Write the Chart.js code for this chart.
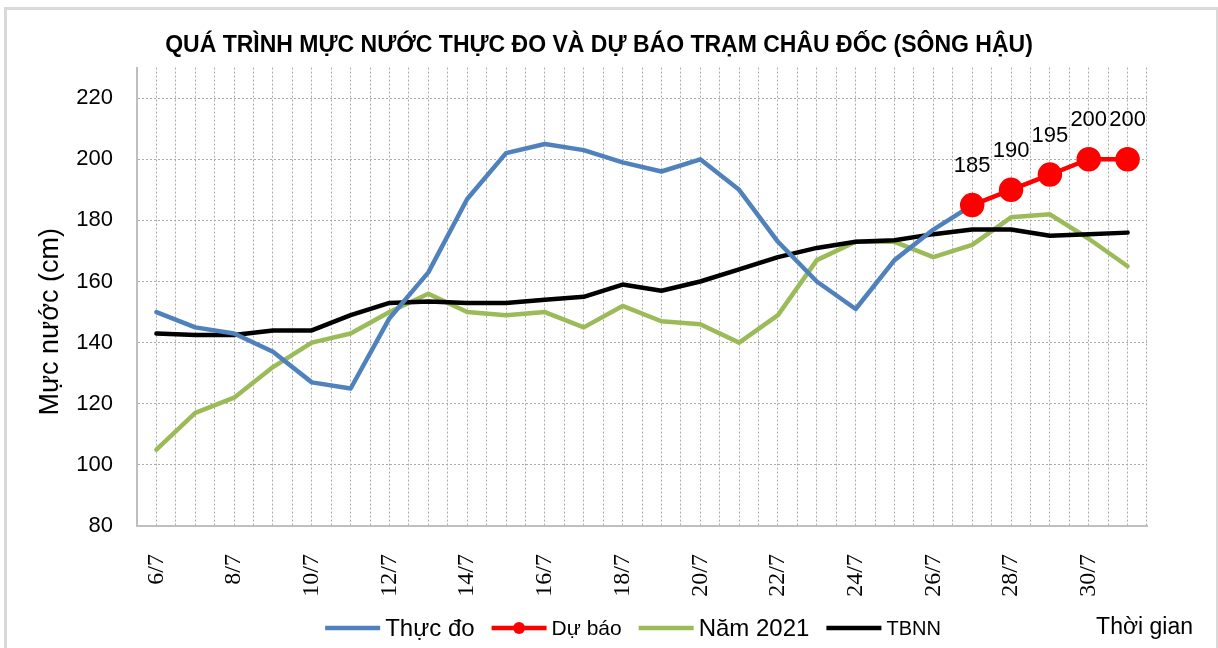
<!DOCTYPE html>
<html>
<head>
<meta charset="utf-8">
<script src="https://cdn.jsdelivr.net/npm/chart.js@4.4.1/dist/chart.umd.min.js"></script>
<style>
  body { margin: 0; background: #fff; }
  #frame { position: absolute; left: 4px; top: 7px; width: 1209px; height: 700px; border: 3px solid #d9d9d9; }
  #chart { position: absolute; left: 0; top: 0; }
</style>
</head>
<body>
<div id="frame"></div>
<canvas id="chart" width="1218" height="648"></canvas>
<script>
var days = ['6/7','7/7','8/7','9/7','10/7','11/7','12/7','13/7','14/7','15/7','16/7','17/7','18/7',
            '19/7','20/7','21/7','22/7','23/7','24/7','25/7','26/7','27/7','28/7','29/7','30/7','31/7'];

var thucDo = [150,145,143,137,127,125,148,163,187,202,205,203,199,196,200,190,173,160,151,167,177,185,
              null,null,null,null];
var duBao = [null,null,null,null,null,null,null,null,null,null,null,null,null,null,null,null,null,null,null,null,null,
             185,190,195,200,200];
var nam2021 = [105,117,122,132,140,143,150,156,150,149,150,145,152,147,146,140,149,167,173,173,168,172,181,182,174,165];
var tbnn = [143,142.5,142.5,144,144,149,153,153.5,153,153,154,155,159,157,160,164,168,171,173,173.5,175.5,177,177,175,175.5,176];

var yTicks = [80,100,120,140,160,180,200,220];

var gridColor = '#ababab';
var axisColor = '#bfbfbf';

// text that Chart.js has no slot for: labels on forecast points, legend row, axis titles
var extraText = {
  id: 'extraText',
  afterDatasetsDraw: function(chart){
    var ctx = chart.ctx;
    ctx.save();
    ctx.fillStyle = '#000';
    ctx.font = '22px "Liberation Sans"';
    ctx.textAlign = 'center';
    ctx.textBaseline = 'bottom';
    var meta = chart.getDatasetMeta(1);
    meta.data.forEach(function(pt, i){
      if (duBao[i] == null) return;
      ctx.fillText(String(duBao[i]), pt.x, pt.y - 28);
    });
    ctx.restore();
  },
  afterDraw: function(chart){
    var ctx = chart.ctx;
    var area = chart.chartArea;
    ctx.save();
    ctx.fillStyle = '#000';
    ctx.textBaseline = 'middle';

    // y title
    ctx.save();
    ctx.translate(area.left - 86, (area.top + area.bottom) / 2 + 25);
    ctx.rotate(-Math.PI / 2);
    ctx.textAlign = 'center';
    ctx.font = '27px "Liberation Sans"';
    ctx.fillText('Mực nước (cm)', 0, 0);
    ctx.restore();

    // x title
    ctx.textAlign = 'right';
    ctx.font = '23px "Liberation Sans"';
    ctx.fillText('Thời gian', area.right + 46, 628);

    // legend
    var sizes = [24, 21, 24, 20];
    var lineLen = 55, gapText = 5, gapItem = 17;
    var items = chart.data.datasets.map(function(ds, i){
      ctx.font = sizes[i] + 'px "Liberation Sans"';
      return {ds: ds, font: ctx.font, w: ctx.measureText(ds.label).width};
    });
    var total = 0;
    items.forEach(function(it, i){
      total += lineLen + gapText + it.w + (i < items.length - 1 ? gapItem : 0);
    });
    var x = 633 - total / 2;
    var y = 628;
    ctx.textAlign = 'left';
    items.forEach(function(it){
      ctx.strokeStyle = it.ds.borderColor;
      ctx.lineWidth = 4.5;
      ctx.beginPath();
      ctx.moveTo(x, y);
      ctx.lineTo(x + lineLen, y);
      ctx.stroke();
      if (it.ds.pointRadius > 0) {
        ctx.fillStyle = it.ds.pointBackgroundColor;
        ctx.beginPath();
        ctx.arc(x + lineLen / 2, y, 6, 0, Math.PI * 2);
        ctx.fill();
      }
      ctx.fillStyle = '#000';
      ctx.font = it.font;
      ctx.fillText(it.ds.label, x + lineLen + gapText, y + 1);
      x += lineLen + gapText + it.w + gapItem;
    });
    ctx.restore();
  }
};

var ctx = document.getElementById('chart').getContext('2d');
var myChart = new Chart(ctx, {
  type: 'line',
  plugins: [extraText],
  data: {
    labels: days,
    datasets: [{
      label: 'Thực đo',
      data: thucDo,
      borderColor: '#4f81bd',
      backgroundColor: '#4f81bd',
      borderWidth: 4.5,
      pointRadius: 0,
      order: 1
    },
    {
      label: 'Dự báo',
      data: duBao,
      borderColor: '#ff0000',
      backgroundColor: '#ff0000',
      pointBackgroundColor: '#ff0000',
      pointBorderColor: '#ff0000',
      borderWidth: 4.5,
      pointRadius: 10,
      order: 0
    },
    {
      label: 'Năm 2021',
      data: nam2021,
      borderColor: '#9bbb59',
      backgroundColor: '#9bbb59',
      borderWidth: 4.5,
      pointRadius: 0,
      order: 3
    },
    {
      label: 'TBNN',
      data: tbnn,
      borderColor: '#000000',
      backgroundColor: '#000000',
      borderWidth: 4.5,
      pointRadius: 0,
      order: 2
    }]
  },
  options: {
    responsive: false,
    animation: false,
    layout: {
      padding: { left: 51, right: 71, top: 0, bottom: 0 }
    },
    elements: {
      line: { tension: 0, borderJoinStyle: 'round', borderCapStyle: 'round' }
    },
    scales: {
      y: {
        min: 80,
        max: 230,
        afterBuildTicks: function(scale){
          scale.ticks = yTicks.map(function(v){ return {value: v}; });
        },
        afterFit: function(scale){ scale.width = 86; },
        ticks: {
          padding: 24,
          color: '#000',
          font: { family: 'Liberation Sans', size: 22 }
        },
        grid: { color: gridColor, lineWidth: 1, drawTicks: false },
        border: { color: axisColor, width: 2, dash: [2, 2] }
      },
      x: {
        type: 'category',
        offset: true,
        afterFit: function(scale){ scale.height = 122; },
        ticks: {
          autoSkip: false,
          minRotation: 90,
          maxRotation: 90,
          padding: 28,
          color: '#000',
          font: { family: 'Liberation Serif', size: 24 },
          callback: function(value, index){
            return index % 2 === 0 ? this.getLabelForValue(value) : '';
          }
        },
        grid: { offset: true, color: gridColor, lineWidth: 1, drawTicks: false },
        border: { color: axisColor, width: 2, dash: [2, 2] }
      },
      x2: {
        type: 'category',
        position: 'bottom',
        offset: true,
        afterFit: function(scale){ scale.height = 0; },
        ticks: { display: false },
        grid: { offset: false, color: gridColor, lineWidth: 1, drawTicks: false },
        border: { display: false, dash: [2, 2] }
      }
    },
    plugins: {
      legend: { display: false },
      tooltip: { enabled: false },
      title: {
        display: true,
        text: 'QUÁ TRÌNH MỰC NƯỚC THỰC ĐO VÀ DỰ BÁO TRẠM CHÂU ĐỐC (SÔNG HẬU)',
        color: '#000',
        font: { family: 'Liberation Sans', size: 23, weight: 'bold' },
        padding: { top: 32, bottom: 8 }
      }
    }
  }
});
</script>
</body>
</html>
